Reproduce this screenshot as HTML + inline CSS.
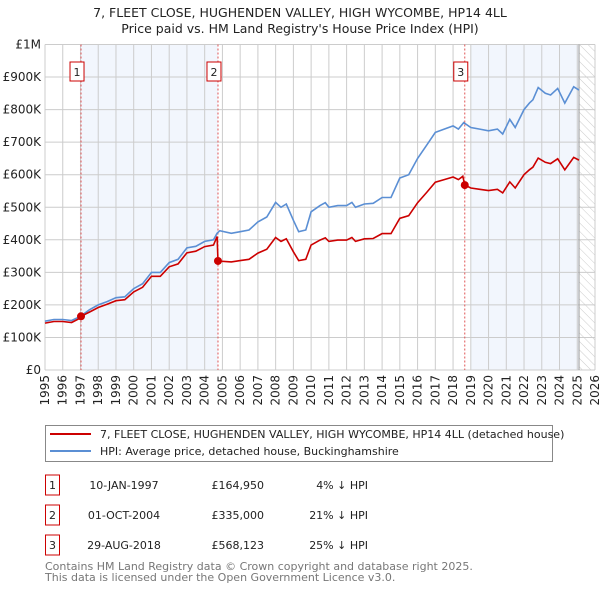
<!DOCTYPE html>
<html><head><meta charset="utf-8">
<style>
body{margin:0;background:#fff;font-family:"DejaVu Sans","Liberation Sans",sans-serif;}
#wrap{position:relative;width:600px;height:590px;overflow:hidden;}
svg text{font-family:"DejaVu Sans","Liberation Sans",sans-serif;}
</style></head><body>
<div id="wrap">
<svg id="chart" width="600" height="590">
<text x="300" y="17" text-anchor="middle" font-size="12.5" fill="#222">7, FLEET CLOSE, HUGHENDEN VALLEY, HIGH WYCOMBE, HP14 4LL</text>
<text x="300" y="33" text-anchor="middle" font-size="12.5" fill="#222">Price paid vs. HM Land Registry's House Price Index (HPI)</text>
<defs><pattern id="hatch" width="6" height="6" patternUnits="userSpaceOnUse" patternTransform="rotate(-45)"><line x1="0" y1="0" x2="0" y2="6" stroke="#ccc" stroke-width="1"/></pattern></defs>
<g id="bg"></g><g id="grid"></g><g id="marks"></g><g id="axes"></g>
<rect x="45.5" y="425.5" width="507" height="36" fill="#fff" stroke="#888"/>
<line x1="50" y1="434" x2="91" y2="434" stroke="#cc0000" stroke-width="2"/>
<text x="100" y="438" font-size="11" fill="#222">7, FLEET CLOSE, HUGHENDEN VALLEY, HIGH WYCOMBE, HP14 4LL (detached house)</text>
<line x1="50" y1="451" x2="91" y2="451" stroke="#5b8fd4" stroke-width="2"/>
<text x="100" y="455" font-size="11" fill="#222">HPI: Average price, detached house, Buckinghamshire</text>
<g id="table" font-size="11" fill="#222"></g>
<text x="45" y="570" font-size="11" fill="#777">Contains HM Land Registry data © Crown copyright and database right 2025.</text>
<text x="45" y="581" font-size="11" fill="#777">This data is licensed under the Open Government Licence v3.0.</text>
</svg>
</div>
<script>
const hpiYears=[1995,1995.5,1996,1996.5,1997,1997.5,1998,1998.5,1999,1999.5,2000,2000.5,2001,2001.5,2002,2002.5,2003,2003.5,2004,2004.5,2004.7,2004.85,2005.5,2006,2006.5,2007,2007.5,2008,2008.3,2008.6,2009,2009.3,2009.7,2010,2010.5,2010.8,2011,2011.5,2012,2012.3,2012.5,2013,2013.5,2014,2014.5,2015,2015.5,2016,2016.5,2017,2017.5,2018,2018.3,2018.6,2019,2019.5,2020,2020.5,2020.8,2021.2,2021.5,2022,2022.3,2022.5,2022.8,2023.2,2023.5,2023.9,2024.3,2024.8,2025.1];
const hpiValues=[150,155,155,152,165,185,200,210,222,225,250,265,300,300,330,340,375,380,395,400,420,428,420,425,430,455,470,515,500,510,460,425,430,486,505,514,500,505,505,515,500,510,512,530,530,590,600,650,690,730,740,750,740,760,745,740,735,740,725,770,745,800,820,830,868,850,845,865,820,870,860];
const redYears=[1995,1995.5,1996,1996.5,1997,1997.03,1997.5,1998,1998.5,1999,1999.5,2000,2000.5,2001,2001.5,2002,2002.5,2003,2003.5,2004,2004.5,2004.7,2004.75,2005.5,2006,2006.5,2007,2007.5,2008,2008.3,2008.6,2009,2009.3,2009.7,2010,2010.5,2010.8,2011,2011.5,2012,2012.3,2012.5,2013,2013.5,2014,2014.5,2015,2015.5,2016,2016.5,2017,2017.5,2018,2018.3,2018.55,2018.66,2019,2019.5,2020,2020.5,2020.8,2021.2,2021.5,2022,2022.3,2022.5,2022.8,2023.2,2023.5,2023.9,2024.3,2024.8,2025.1];
const redValues=[144,149,149,146,160,165,178,192,202,213,216,240,254,288,288,317,326,360,365,379,384,410,335,332,336,340,359,371,407,395,403,363,336,340,384,399,406,395,399,399,407,395,403,404,419,419,466,474,514,545,577,585,593,585,595,568,559,555,551,555,544,578,559,600,615,623,651,638,634,649,615,653,645];
const saleYears=[1997.03,2004.75,2018.66];
const saleValues=[164.95,335,568.123];
const saleLabels=["1","2","3"];
const saleDates=["10-JAN-1997","01-OCT-2004","29-AUG-2018"];
const salePrices=["£164,950","£335,000","£568,123"];
const salePcts=["4% ↓ HPI","21% ↓ HPI","25% ↓ HPI"];
const yTicks=[0,100,200,300,400,500,600,700,800,900,1000];
const yTickLabels=["£0","£100K","£200K","£300K","£400K","£500K","£600K","£700K","£800K","£900K","£1M"];
const xTicks=[1995,1996,1997,1998,1999,2000,2001,2002,2003,2004,2005,2006,2007,2008,2009,2010,2011,2012,2013,2014,2015,2016,2017,2018,2019,2020,2021,2022,2023,2024,2025,2026];

const X0=45,X1=595,Y0=370,Y1=44.5;
const xs=y=>X0+(y-1995)/(2026-1995)*(X1-X0);
const ys=v=>Y0-v/1000*(Y0-Y1);
const NS="http://www.w3.org/2000/svg";
function mk(tag,attrs,parent,txt){const e=document.createElementNS(NS,tag);for(const k in attrs)e.setAttribute(k,attrs[k]);if(txt!==undefined)e.textContent=txt;document.getElementById(parent).appendChild(e);return e;}

let e;
e=mk('rect',{x:xs(saleYears[0]),y:Y1,width:xs(saleYears[1])-xs(saleYears[0]),height:Y0-Y1,fill:'#f2f6fd'},'bg');


e=mk('rect',{x:xs(2019),y:Y1,width:xs(2025.1)-xs(2019),height:Y0-Y1,fill:'#f2f6fd'},'bg');


e=mk('rect',{x:xs(2025.1),y:Y1,width:X1-xs(2025.1),height:Y0-Y1,fill:'url(#hatch)'},'bg');



yTicks.forEach((t,i)=>{
 e=mk('line',{x1:X0,x2:X1,y1:ys(t),y2:ys(t),stroke:'#ccc','stroke-width':1},'grid');
 
 
 e=mk('text',{x:X0-4,y:ys(t)+4,'text-anchor':'end','font-size':12,fill:'#222'},'axes',yTickLabels[i]);
 
 
});
xTicks.forEach(t=>{
 e=mk('line',{x1:xs(t),x2:xs(t),y1:Y1,y2:Y0,stroke:'#ccc','stroke-width':1},'grid');
 
 
 e=mk('text',{x:0,y:0,'text-anchor':'end','font-size':12,fill:'#222',transform:`translate(${xs(t)+4},${Y0+5}) rotate(-90)`},'axes',String(t));
 
 
});
e=mk('line',{x1:xs(2025.1),x2:xs(2025.1),y1:Y1,y2:Y0,stroke:'#999','stroke-width':1},'grid');



saleYears.forEach((s,i)=>{
 e=mk('line',{x1:xs(s),x2:xs(s),y1:Y1,y2:Y0,stroke:'#e05555','stroke-width':1,'stroke-dasharray':'2,2'},'marks');
 
 
});

e=mk('path',{d:hpiYears.map((y,i)=>(i?'L':'M')+xs(y).toFixed(1)+','+ys(hpiValues[i]).toFixed(1)).join(''),fill:'none',stroke:'#5b8fd4','stroke-width':1.6},'marks');


e=mk('path',{d:redYears.map((y,i)=>(i?'L':'M')+xs(y).toFixed(1)+','+ys(redValues[i]).toFixed(1)).join(''),fill:'none',stroke:'#cc0000','stroke-width':1.6},'marks');



saleYears.forEach((s,i)=>{
 e=mk('circle',{cx:xs(s),cy:ys(saleValues[i]),r:4,fill:'#cc0000'},'marks');
 
 
 e=mk('rect',{x:xs(s)-11,y:62,width:14,height:19,fill:'#fff',stroke:'#cc0000'},'marks');
 
 
 e=mk('text',{x:xs(s)-4,y:76,'text-anchor':'middle','font-size':11,fill:'#222'},'marks',saleLabels[i]);
 
 
 const ry=[485,515,545][i];
 e=mk('rect',{x:45.5,y:ry-10,width:14,height:20,fill:'#fff',stroke:'#cc0000'},'table');
 
 
 e=mk('text',{x:52.5,y:ry+4,'text-anchor':'middle'},'table',saleLabels[i]);
 
 
 e=mk('text',{x:124,y:ry+4,'text-anchor':'middle'},'table',saleDates[i]);
 
 
 e=mk('text',{x:264,y:ry+4,'text-anchor':'end'},'table',salePrices[i]);
 
 
 e=mk('text',{x:368,y:ry+4,'text-anchor':'end'},'table',salePcts[i]);
 
 
});
</script>
</body></html>
